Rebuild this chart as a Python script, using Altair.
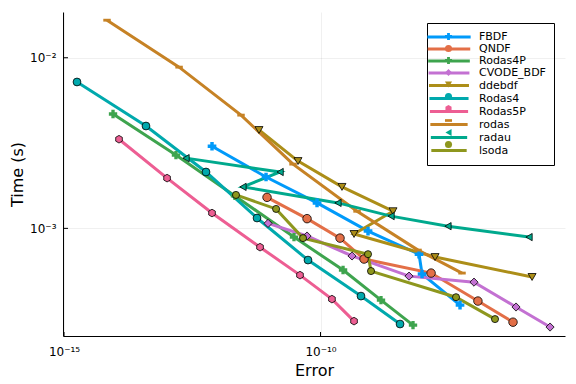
import altair as alt
import pandas as pd

methods = ["FBDF", "QNDF", "Rodas4P", "CVODE_BDF", "ddebdf", "Rodas4", "Rodas5P", "rodas", "radau", "lsoda"]
colors = ["#009AFA", "#E36F47", "#3EA44E", "#C371D2", "#AC8E18", "#00A9AD", "#ED5E93", "#C68225", "#00A98D", "#8E971E"]
hexagon = "M0,-1L0.866,-0.5L0.866,0.5L0,1L-0.866,0.5L-0.866,-0.5Z"
hline = "M-1,-0.38H1V0.38H-1Z"
shapes = ["cross", "circle", "cross", "diamond", "triangle-down", "circle", hexagon, hline, "triangle-left", "circle"]
sizes = [75, 50, 75, 75, 100, 50, 60, 70, 45, 64]

x_ticks = [1e-15, 1e-10]
x_tick_labels = ["10⁻¹⁵", "10⁻¹⁰"]
y_ticks = [1e-3, 1e-2]
y_tick_labels = ["10⁻³", "10⁻²"]

fbdf_err = [7.67e-13, 8.67e-12, 8.55e-11, 8.43e-10, 8.32e-09, 9.53e-09, 5.24e-08]
fbdf_time = [3.03e-3, 2.00e-3, 1.41e-3, 9.64e-4, 7.06e-4, 5.40e-4, 3.55e-4]
qndf_err = [9.06e-12, 5.46e-11, 2.40e-10, 7.05e-10, 1.43e-08, 1.17e-07, 5.65e-07]
qndf_time = [1.52e-3, 1.14e-3, 8.77e-4, 6.61e-4, 5.47e-4, 3.75e-4, 2.82e-4]
rodas4p_err = [9.02e-15, 1.52e-13, 2.15e-12, 3.04e-11, 2.75e-10, 1.51e-09, 6.35e-09]
rodas4p_time = [4.68e-3, 2.69e-3, 1.55e-3, 8.89e-4, 5.70e-4, 3.80e-4, 2.71e-4]
cvode_err = [9.48e-12, 5.46e-11, 4.11e-10, 5.31e-09, 9.82e-08, 6.47e-07, 2.98e-06]
cvode_time = [1.07e-3, 9.02e-4, 6.89e-4, 5.25e-4, 4.84e-4, 3.46e-4, 2.64e-4]
ddebdf_err = [6.32e-12, 3.64e-11, 2.62e-10, 2.59e-09, 4.50e-10, 1.71e-08, 1.33e-06]
ddebdf_time = [3.77e-3, 2.48e-3, 1.75e-3, 1.26e-3, 9.27e-4, 6.79e-4, 5.19e-4]
rodas4_err = [1.79e-15, 3.96e-14, 5.86e-13, 5.78e-12, 5.70e-11, 6.15e-10, 3.55e-09]
rodas4_time = [7.21e-3, 3.98e-3, 2.14e-3, 1.15e-3, 6.52e-4, 4.01e-4, 2.75e-4]
rodas5p_err = [1.18e-14, 1.02e-13, 7.67e-13, 6.62e-12, 3.98e-11, 1.67e-10, 4.50e-10]
rodas5p_time = [3.33e-3, 1.97e-3, 1.23e-3, 7.76e-4, 5.32e-4, 3.85e-4, 2.86e-4]
rodas_err = [6.89e-15, 1.75e-13, 2.82e-12, 2.91e-11, 5.15e-10, 7.96e-09, 5.73e-08]
rodas_time = [1.66e-2, 8.81e-3, 4.61e-3, 2.38e-3, 1.26e-3, 7.46e-4, 5.47e-4]
radau_err = [2.39e-13, 1.63e-11, 3.08e-12, 2.19e-10, 2.37e-09, 3.05e-08, 1.16e-06]
radau_time = [2.58e-3, 2.14e-3, 1.75e-3, 1.41e-3, 1.18e-3, 1.03e-3, 8.89e-4]
lsoda_err = [2.25e-12, 1.36e-11, 4.56e-11, 8.43e-10, 9.64e-10, 4.38e-08, 2.52e-07]
lsoda_time = [1.57e-3, 1.30e-3, 8.77e-4, 7.06e-4, 5.62e-4, 3.95e-4, 2.94e-4]

series = {
    "FBDF": (fbdf_err, fbdf_time),
    "QNDF": (qndf_err, qndf_time),
    "Rodas4P": (rodas4p_err, rodas4p_time),
    "CVODE_BDF": (cvode_err, cvode_time),
    "ddebdf": (ddebdf_err, ddebdf_time),
    "Rodas4": (rodas4_err, rodas4_time),
    "Rodas5P": (rodas5p_err, rodas5p_time),
    "rodas": (rodas_err, rodas_time),
    "radau": (radau_err, radau_time),
    "lsoda": (lsoda_err, lsoda_time),
}

# marker-legend keys: a separate key per method so the marker legend stays
# apart from the line legend and can be overlaid on it
pkeys = [n + " " for n in methods]

rows = []
for name, (errs, times) in series.items():
    for i, (e, t) in enumerate(zip(errs, times)):
        rows.append({"m": name, "m2": name + " ", "i": i, "err": e, "time": t})
df = pd.DataFrame(rows)

FONT = "DejaVu Sans"

xlab = " : ".join(f"datum.value == {v} ? '{l}'" for v, l in zip(x_ticks, x_tick_labels)) + " : ''"
ylab = " : ".join(f"datum.value == {v} ? '{l}'" for v, l in zip(y_ticks, y_tick_labels)) + " : ''"

x = alt.X("err:Q",
          scale=alt.Scale(type="log", domain=[9.55e-16, 5.83e-6], nice=False),
          axis=alt.Axis(values=x_ticks, title="Error", labelExpr=xlab))
y = alt.Y("time:Q",
          scale=alt.Scale(type="log", domain=[2.34e-4, 1.854e-2], nice=False),
          axis=alt.Axis(values=y_ticks, title="Time (s)", labelExpr=ylab))

leg_common = dict(title=None, orient="none", legendX=364, legendY=11, padding=8,
                  rowPadding=0, labelFontSize=11, labelFont=FONT, symbolOffset=8,
                  labelOffset=24, cornerRadius=0)

leg_lines = alt.Legend(symbolType="M-5,0H5", symbolSize=49, symbolStrokeWidth=3,
                       labelColor="black", strokeColor="#000000", **leg_common)
leg_pts = alt.Legend(symbolSize=50, symbolStrokeColor="black", symbolStrokeWidth=0.8,
                     labelExpr="'\u00a0'", symbolOpacity=1, **leg_common)

lines = alt.Chart(df).mark_line(strokeWidth=3).encode(
    x=x, y=y, order="i:Q",
    stroke=alt.Stroke("m:N", scale=alt.Scale(domain=methods, range=colors), legend=leg_lines),
)

points = alt.Chart(df).mark_point(filled=True, opacity=1, strokeWidth=0.8).encode(
    x=x, y=y,
    fill=alt.Fill("m2:N", scale=alt.Scale(domain=pkeys, range=colors), legend=leg_pts),
    shape=alt.Shape("m2:N", scale=alt.Scale(domain=pkeys, range=shapes), legend=leg_pts),
    size=alt.Size("m:N", scale=alt.Scale(domain=methods, range=sizes), legend=None),
    stroke=alt.condition("datum.m == 'FBDF' || datum.m == 'Rodas4P' || datum.m == 'rodas'",
                         alt.value("transparent"), alt.value("black")),
)

# inward tick marks, as Plots.jl draws them
xtick_marks = alt.Chart(pd.DataFrame({"err": x_ticks})).mark_rule(color="black", strokeWidth=1).encode(
    x=x, y=alt.value(324), y2=alt.value(320))
ytick_marks = alt.Chart(pd.DataFrame({"time": y_ticks})).mark_rule(color="black", strokeWidth=1).encode(
    y=y, x=alt.value(0), x2=alt.value(5))

chart = alt.layer(lines, points, xtick_marks, ytick_marks).properties(
    width=502, height=324,
    padding={"left": 55, "top": 4, "right": 3, "bottom": 48},
    autosize=alt.AutoSizeParams(type="none"),
).configure_view(stroke=None).configure_axis(
    domainColor="black", domainWidth=1, gridColor="black", gridOpacity=0.1, gridWidth=0.6,
    tickSize=0, labelFont=FONT, labelFontSize=12, labelColor="black",
    titleFont=FONT, titleFontSize=16, titleFontWeight="normal", titleColor="black",
).configure_axisX(titlePadding=5, labelPadding=10).configure_axisY(titlePadding=4, labelPadding=7)

chart.save("out.html", embed_options={"renderer": "svg", "actions": False})
